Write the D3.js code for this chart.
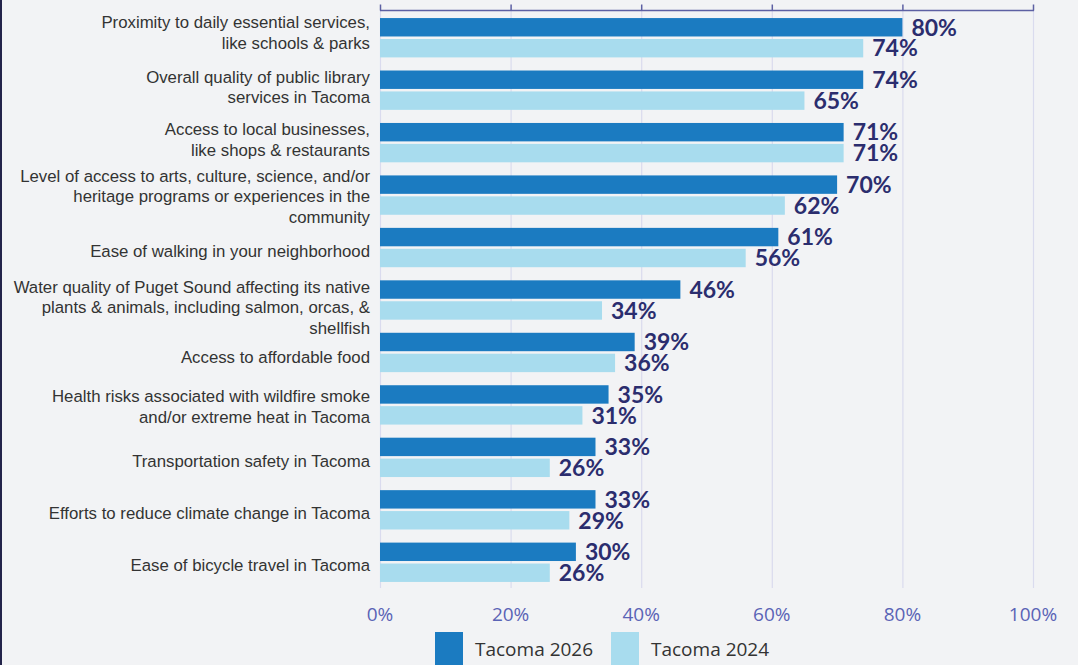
<!DOCTYPE html>
<html>
<head>
<meta charset="utf-8">
<script src="https://cdn.jsdelivr.net/npm/d3@7"></script>
<style>
  body { margin: 0; background: #f2f3f5; }
  svg { display: block; }
</style>
</head>
<body>
<div id="chart"></div>
<script>
// Chart data
const categories = [
  ["Proximity to daily essential services,", "like schools & parks"],
  ["Overall quality of public library", "services in Tacoma"],
  ["Access to local businesses,", "like shops & restaurants"],
  ["Level of access to arts, culture, science, and/or", "heritage programs or experiences in the", "community"],
  ["Ease of walking in your neighborhood"],
  ["Water quality of Puget Sound affecting its native", "plants & animals, including salmon, orcas, &", "shellfish"],
  ["Access to affordable food"],
  ["Health risks associated with wildfire smoke", "and/or extreme heat in Tacoma"],
  ["Transportation safety in Tacoma"],
  ["Efforts to reduce climate change in Tacoma"],
  ["Ease of bicycle travel in Tacoma"]
];
const values2026 = [80, 74, 71, 70, 61, 46, 39, 35, 33, 33, 30];
const values2024 = [74, 65, 71, 62, 56, 34, 36, 31, 26, 29, 26];
const seriesNames = ["Tacoma 2026", "Tacoma 2024"];
const xTicks = [0, 20, 40, 60, 80, 100];

// small vertical nudges so the wrapped labels sit like the original
const labelNudge = [-5, -3, -3, 1.5, 4, 7.5, 5, 1.5, 3.5, 3, 3];

const width = 1078;
const height = 665;

const colors = ["#1b7bc1", "#a8dcee"];

const svg = d3.select("#chart").append("svg")
    .attr("width", width)
    .attr("height", height);

svg.append("rect")
    .attr("width", width)
    .attr("height", height)
    .attr("fill", "#f2f3f5");

// left border
svg.append("rect")
    .attr("x", 0).attr("y", 0)
    .attr("width", 2).attr("height", height)
    .attr("fill", "#23244a");

const x = d3.scaleLinear().domain([0, 100]).range([380, 1033]);

const y = d3.scaleBand()
    .domain(d3.range(categories.length))
    .range([11.5, 588.5])
    .paddingInner(0.25)
    .paddingOuter(0.125);

const ySub = d3.scaleBand()
    .domain([0, 1])
    .range([0, y.bandwidth()])
    .paddingInner(0.12);

// gridlines
svg.append("g")
    .selectAll("line")
    .data(xTicks)
    .join("line")
    .attr("x1", d => x(d) + 0.5)
    .attr("x2", d => x(d) + 0.5)
    .attr("y1", 10)
    .attr("y2", 588)
    .attr("stroke", "#dadbee")
    .attr("stroke-width", 1.2);

// top axis
const topAxis = svg.append("g").attr("transform", "translate(0,10.5)");
topAxis.append("line")
    .attr("x1", x(0)).attr("x2", x(100) + 1)
    .attr("stroke", "#5d60a3").attr("stroke-width", 1.5);
topAxis.selectAll(".tick")
    .data(xTicks)
    .join("line")
    .attr("x1", d => x(d) + 0.5)
    .attr("x2", d => x(d) + 0.5)
    .attr("y1", -6)
    .attr("y2", 0)
    .attr("stroke", "#5d60a3")
    .attr("stroke-width", 1.5);

// bars
const rows = svg.append("g")
    .selectAll("g")
    .data(categories.map((c, i) => ({ i, label: c, vals: [values2026[i], values2024[i]] })))
    .join("g")
    .attr("transform", d => `translate(0,${y(d.i)})`);

rows.selectAll("rect")
    .data(d => d.vals.map((v, s) => ({ v, s })))
    .join("rect")
    .attr("x", x(0))
    .attr("y", d => ySub(d.s))
    .attr("width", d => x(d.v) - x(0))
    .attr("height", ySub.bandwidth())
    .attr("fill", d => colors[d.s]);

rows.selectAll(".val")
    .data(d => d.vals.map((v, s) => ({ v, s })))
    .join("text")
    .attr("class", "val")
    .attr("x", d => x(d.v) + 9)
    .attr("y", d => ySub(d.s) + ySub.bandwidth() / 2)
    .attr("dy", "0.36em")
    .attr("font-family", "Lato, sans-serif")
    .attr("font-weight", 700)
    .attr("font-size", 23)
    .attr("fill", "#2b2d6e")
    .text(d => d.v + "%");

// category labels
rows.append("text")
    .attr("text-anchor", "end")
    .attr("font-family", "'Liberation Sans', Arial, sans-serif")
    .attr("font-size", 16.8)
    .attr("fill", "#333333")
    .each(function(d) {
        const lines = d.label;
        const lh = 20.5;
        const top = y.bandwidth() / 2 + labelNudge[d.i] - (lines.length - 1) * lh / 2;
        d3.select(this).selectAll("tspan")
            .data(lines)
            .join("tspan")
            .attr("x", 370)
            .attr("y", (l, k) => top + k * lh)
            .attr("dy", "0.35em")
            .text(l => l);
    });

// bottom tick labels
svg.append("g")
    .selectAll("text")
    .data(xTicks)
    .join("text")
    .attr("x", d => x(d))
    .attr("y", 614)
    .attr("dy", "0.35em")
    .attr("text-anchor", "middle")
    .attr("font-family", "'Open Sans', sans-serif")
    .attr("font-size", 19)
    .attr("fill", "#5a63b6")
    .text(d => d + "%");

// legend
const legendX = [435, 611];
const legend = svg.append("g")
    .selectAll("g")
    .data(seriesNames)
    .join("g")
    .attr("transform", (d, i) => `translate(${legendX[i]},632)`);

legend.append("rect")
    .attr("width", 28)
    .attr("height", 36)
    .attr("fill", (d, i) => colors[i]);

legend.append("text")
    .attr("x", 40)
    .attr("y", 17)
    .attr("dy", "0.35em")
    .attr("font-family", "'Open Sans', sans-serif")
    .attr("font-size", 19)
    .attr("fill", "#333333")
    .text(d => d);
</script>
</body>
</html>
